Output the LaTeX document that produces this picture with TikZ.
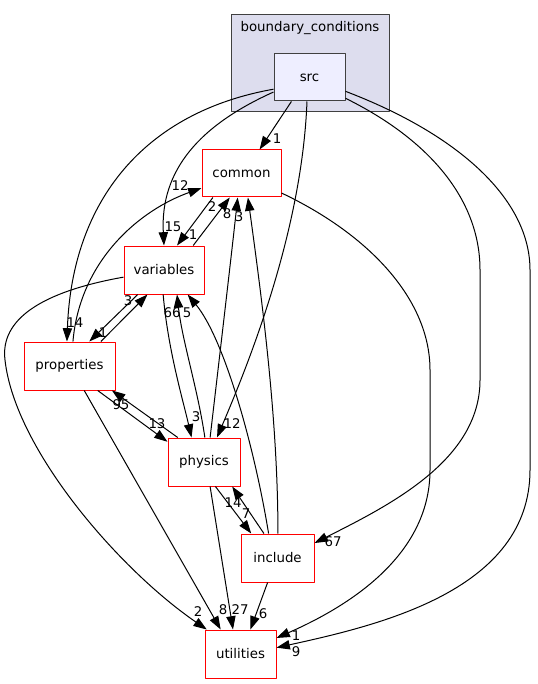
\documentclass[tikz,border=0pt]{standalone}
\usepackage{fontspec}
\setmainfont{DejaVu Sans}
\usetikzlibrary{arrows.meta}
\definecolor{clusterfill}{HTML}{DDDDEE}
\definecolor{srcfill}{HTML}{EEEEFF}
\begin{document}
\begin{tikzpicture}[x=0.75pt, y=-0.75pt, font=\fontsize{10}{12}\selectfont, line join=round,
    >={Triangle[length=10pt,width=7pt]},
    dirbox/.style={draw=red, line width=0.75pt, minimum height=36pt, inner sep=0pt},
    dep/.style={->, line width=0.75pt},
    lbl/.style={inner sep=0pt}]
  \useasboundingbox (0,0) rectangle (537,684);
  % cluster
  \draw[fill=clusterfill, draw=black!75, line width=0.75pt] (231,15) rectangle (389,112);
  \node (bclabel) at (310,28) {boundary\_conditions};
  % directories
  \node[dirbox, draw=black!75, fill=srcfill, minimum width=53.25pt, minimum height=35.25pt] (src) at (309.5,77.5) {src};
  \node[dirbox, minimum width=59.25pt, minimum height=35.25pt] (common) at (241.5,173.5) {common};
  \node[dirbox, minimum width=60pt] (variables) at (164,270) {variables};
  \node[dirbox, minimum width=68.25pt] (properties) at (69.5,366) {properties};
  \node[dirbox, minimum width=54pt] (physics) at (204,462) {physics};
  \node[dirbox, minimum width=54.75pt] (include) at (277.5,558) {include};
  \node[dirbox, minimum width=53.25pt] (utilities) at (240.5,654) {utilities};
  % from src
  \draw[dep] (src.233) -- (common.53) node[lbl] at (277,139) {1};
  \draw[dep] (src.202) .. controls (200,125) and (160,170) .. (variables.90) node[lbl] at (173,227) {15};
  \draw[dep] (src.198) .. controls (145,112) and (72,200) .. (properties.96) node[lbl] at (75,323) {14};
  \draw[dep] (src.264) .. controls (302,230) and (250,360) .. (physics.62) node[lbl] at (232,424) {12};
  \draw[dep] (src.330) .. controls (430,140) and (480,200) .. (480,270) -- (480,380)
    .. controls (480,460) and (390,505) .. (include.22) node[lbl] at (333,542) {67};
  \draw[dep] (src.339) .. controls (460,135) and (530,200) .. (530,270) -- (530,470)
    .. controls (530,590) and (380,625) .. (utilities.10) node[lbl] at (296,652) {9};
  % common
  \draw[dep] (common.220) -- (variables.62) node[lbl] at (193,235) {1};
  \draw[dep] (common.334) .. controls (370,235) and (430,300) .. (430,370) -- (430,470)
    .. controls (430,560) and (340,610) .. (utilities.24) node[lbl] at (296,636) {1};
  % variables
  \draw[dep] (variables.40) -- (common.244) node[lbl] at (212,207) {2};
  \draw[dep] (variables.223) -- (properties.51) node[lbl] at (103,333) {1};
  \draw[dep] (variables.268) .. controls (168,350) and (183,400) .. (physics.117) node[lbl] at (196,417) {3};
  \draw[dep] (variables.190) .. controls (40,292) and (0,320) .. (5,360)
    .. controls (15,450) and (120,570) .. (utilities.144) node[lbl] at (198,612) {2};
  % properties
  \draw[dep] (properties.82) .. controls (80,260) and (140,210) .. (common.200) node[lbl] at (180,186) {12};
  \draw[dep] (properties.38) -- (variables.236) node[lbl] at (128,301) {3};
  \draw[dep] (properties.319) -- (physics.151) node[lbl] at (157,424) {13};
  \draw[dep] (properties.301) -- (utilities.129) node[lbl] at (223,610) {8};
  % physics
  \draw[dep] (physics.76) .. controls (218,370) and (232,250) .. (common.261) node[lbl] at (227,214) {8};
  \draw[dep] (physics.88) .. controls (198,390) and (182,340) .. (variables.298) node[lbl] at (172,313) {66};
  \draw[dep] (physics.137) -- (properties.330) node[lbl] at (121,405) {95};
  \draw[dep] (physics.295) -- (include.137) node[lbl] at (246,514) {7};
  \draw[dep] (physics.284) -- (utilities.107) node[lbl] at (240,610) {27};
  % include
  \draw[dep] (include.89) .. controls (278,420) and (262,300) .. (common.285) node[lbl] at (239,217) {3};
  \draw[dep] (include.110) .. controls (255,450) and (225,340) .. (variables.314) node[lbl] at (187,313) {5};
  \draw[dep] (include.119) -- (physics.319) node[lbl] at (233,503) {14};
  \draw[dep] (include.248) -- (utilities.68) node[lbl] at (263,614) {6};
\end{tikzpicture}
\end{document}
